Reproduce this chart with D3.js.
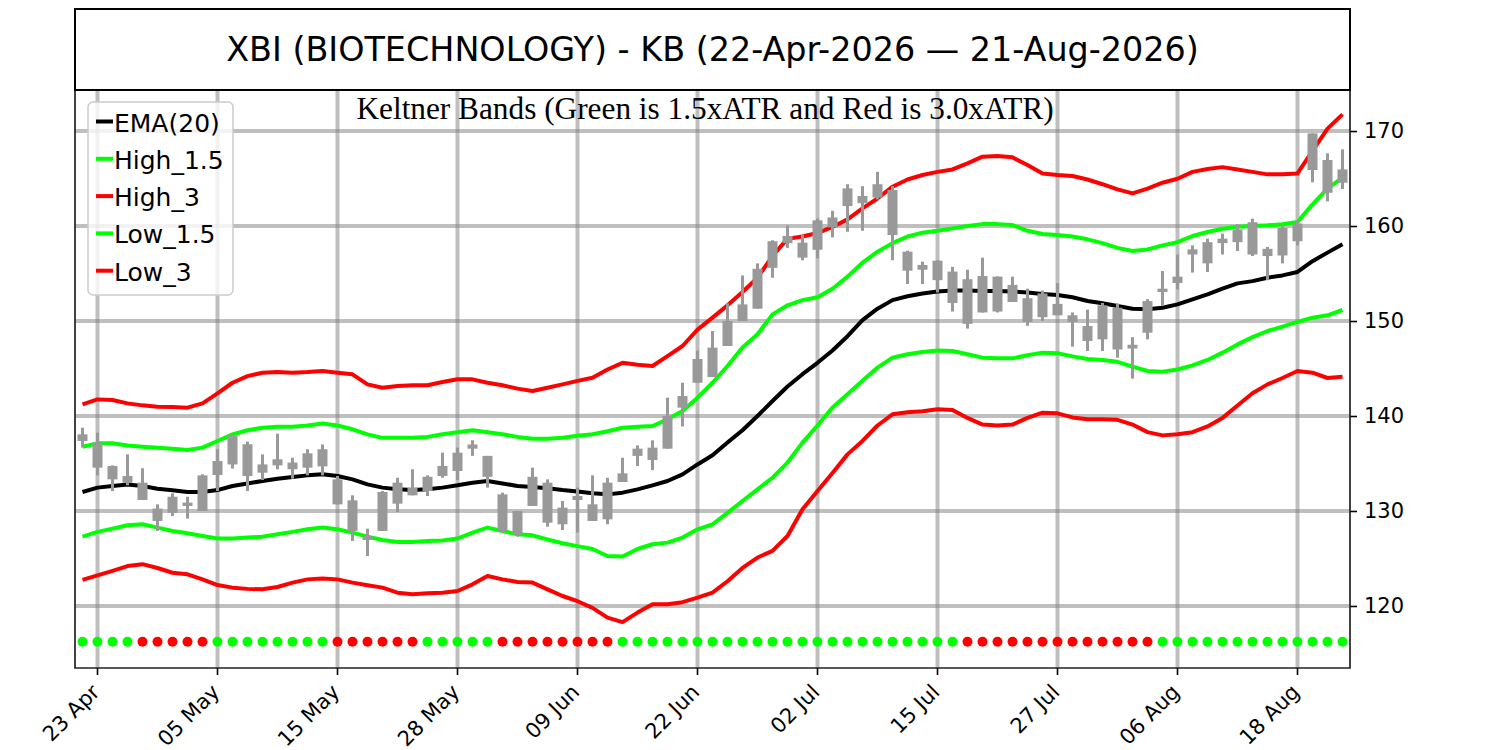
<!DOCTYPE html>
<html>
<head>
<meta charset="utf-8">
<script src="https://cdn.jsdelivr.net/npm/d3@7"></script>
<style>
  body { margin: 0; background: #fff; }
</style>
</head>
<body>
<div id="chart"></div>
<script>
// --- Data ---

// Trading-day calendar (weekdays minus US market holidays in the window)
const startDate = "2026-04-22";
const endDate = "2026-08-21";
const holidays = ["2026-05-25", "2026-06-19", "2026-07-03"];

// Candles (all drawn in the same grey)
const open = [138.07, 137.2, 134.74, 133.68, 132.98, 130.25, 131.5, 130.88, 130.0, 133.79,
  134.9, 137.02, 134.9, 135.44, 134.4, 134.56, 134.7, 133.33, 131.12, 127.37,
  127.9, 130.77, 132.46, 132.1, 133.68, 134.21, 136.56, 135.8, 131.75, 130.0,
  130.53, 132.98, 130.35, 131.58, 130.7, 129.12, 133.05, 135.8, 135.37, 136.56,
  140.88, 143.5, 144.1, 147.37, 150.0, 151.3, 155.6, 158.2, 158.25, 157.5,
  159.86, 162.1, 162.4, 163.0, 163.8, 157.3, 155.9, 156.35, 155.2, 154.4,
  154.74, 154.67, 153.8, 152.4, 152.9, 151.8, 150.6, 149.47, 151.65, 151.4,
  147.5, 148.77, 153.05, 154.0, 157.0, 156.07, 158.2, 158.3, 157.0, 157.6,
  156.9, 158.4, 165.9, 166.95, 165.96];
const close = [137.37, 134.56, 133.33, 132.98, 131.16, 128.95, 129.8, 130.53, 133.75, 135.26,
  137.96, 133.68, 134.03, 134.8, 135.1, 136.07, 136.5, 130.7, 127.9, 126.95,
  132.0, 132.98, 131.65, 133.6, 134.74, 136.14, 137.0, 133.6, 127.9, 127.54,
  133.6, 128.77, 128.6, 131.16, 128.95, 132.98, 133.96, 136.56, 136.67, 140.0,
  142.1, 146.0, 147.2, 150.0, 151.75, 155.5, 158.4, 158.95, 156.67, 160.6,
  160.9, 163.96, 163.16, 164.4, 159.05, 155.3, 155.4, 154.3, 151.9, 149.7,
  150.9, 151.0, 152.0, 149.9, 150.4, 150.6, 149.9, 147.9, 148.07, 147.0,
  147.1, 152.1, 153.4, 154.67, 157.54, 158.3, 158.67, 159.65, 160.4, 156.84,
  159.8, 160.28, 169.75, 163.5, 164.56];
const high = [138.77, 138.25, 134.8, 135.96, 134.5, 130.7, 131.86, 131.5, 133.86, 136.5,
  138.07, 137.3, 135.96, 138.14, 135.61, 136.5, 137.0, 133.68, 131.65, 128.14,
  132.1, 133.5, 134.39, 133.75, 136.14, 136.67, 137.44, 135.8, 131.93, 130.0,
  134.56, 133.33, 131.05, 132.46, 133.75, 133.5, 135.6, 136.9, 137.44, 141.93,
  143.5, 146.9, 148.95, 151.86, 154.8, 156.07, 158.5, 160.07, 159.1, 160.8,
  161.6, 164.4, 164.2, 165.7, 164.2, 157.4, 156.25, 156.4, 155.7, 155.4,
  156.67, 154.7, 154.67, 153.4, 153.2, 154.0, 150.9, 151.2, 151.9, 151.86,
  148.3, 152.3, 155.26, 157.0, 157.96, 158.67, 159.2, 160.2, 160.77, 157.8,
  160.07, 160.6, 169.75, 167.65, 168.07];
const low = [136.67, 133.75, 132.1, 132.7, 131.16, 127.9, 129.47, 129.2, 130.0, 132.1,
  134.46, 132.1, 133.26, 134.39, 133.4, 133.75, 133.75, 130.7, 126.84, 125.26,
  127.9, 129.9, 131.65, 131.58, 133.5, 133.26, 135.8, 132.46, 127.65, 127.3,
  130.53, 128.35, 128.0, 127.72, 128.95, 128.6, 133.05, 134.74, 134.3, 136.56,
  138.9, 143.5, 144.1, 147.37, 150.0, 151.3, 154.56, 157.7, 156.4, 156.6,
  158.8, 159.4, 159.5, 162.8, 156.4, 153.9, 153.9, 153.0, 151.0, 149.2,
  150.9, 150.9, 152.0, 149.5, 150.0, 150.9, 147.3, 146.84, 146.84, 146.14,
  143.93, 148.07, 151.58, 153.33, 155.1, 155.16, 157.0, 157.37, 156.84, 154.3,
  156.07, 157.96, 164.6, 162.6, 163.9];

// Keltner lines
const ema20 = [132.0, 132.46, 132.63, 132.8, 132.63, 132.35, 132.18, 132.0, 132.0, 132.2,
  132.63, 132.9, 133.16, 133.4, 133.58, 133.75, 133.86, 133.68, 133.33, 132.8,
  132.46, 132.28, 132.2, 132.28, 132.46, 132.7, 132.98, 133.16, 132.9, 132.63,
  132.53, 132.39, 132.2, 132.05, 131.86, 131.75, 131.93, 132.28, 132.7, 133.16,
  133.86, 134.9, 135.86, 137.2, 138.5, 140.0, 141.58, 143.1, 144.4, 145.6,
  146.9, 148.4, 150.1, 151.3, 152.2, 152.6, 152.9, 153.1, 153.2, 153.2,
  153.16, 153.16, 153.1, 153.0, 152.84, 152.74, 152.5, 152.1, 151.86, 151.58,
  151.3, 151.23, 151.4, 151.75, 152.28, 152.8, 153.4, 153.96, 154.2, 154.56,
  154.8, 155.16, 156.3, 157.2, 158.07];
const high15 = [136.77, 137.12, 137.12, 136.9, 136.77, 136.67, 136.56, 136.42, 136.67, 137.37,
  138.07, 138.5, 138.77, 138.88, 138.88, 139.0, 139.2, 139.0, 138.6, 138.07,
  137.7, 137.7, 137.7, 137.8, 138.07, 138.3, 138.5, 138.3, 138.07, 137.8,
  137.6, 137.6, 137.7, 137.93, 138.07, 138.4, 138.77, 138.88, 138.95, 139.65,
  140.53, 141.93, 143.5, 145.26, 147.2, 148.6, 150.7, 151.65, 152.2, 152.5,
  153.4, 154.67, 156.14, 157.3, 158.2, 158.9, 159.3, 159.5, 159.75, 160.0,
  160.2, 160.2, 160.1, 159.5, 159.16, 159.05, 158.9, 158.6, 158.2, 157.7,
  157.37, 157.54, 157.96, 158.3, 158.95, 159.37, 159.72, 159.93, 160.0, 160.07,
  160.18, 160.42, 162.28, 163.93, 165.1];
const high3 = [141.23, 141.75, 141.68, 141.33, 141.12, 140.98, 140.95, 140.88, 141.33, 142.38,
  143.5, 144.2, 144.56, 144.63, 144.56, 144.63, 144.74, 144.56, 144.39, 143.33,
  142.98, 143.16, 143.23, 143.23, 143.58, 143.86, 143.86, 143.5, 143.23, 142.88,
  142.63, 142.98, 143.33, 143.7, 144.03, 144.9, 145.6, 145.4, 145.26, 146.3,
  147.37, 149.1, 150.35, 151.65, 153.05, 154.56, 156.84, 158.67, 158.9, 159.26,
  159.9, 160.7, 161.86, 162.9, 164.14, 164.9, 165.37, 165.7, 165.96, 166.6,
  167.3, 167.37, 167.23, 166.42, 165.54, 165.37, 165.27, 164.9, 164.4, 163.86,
  163.44, 163.93, 164.56, 164.98, 165.7, 166.0, 166.2, 165.96, 165.7, 165.44,
  165.44, 165.54, 167.9, 170.25, 171.75];
const low15 = [127.3, 127.8, 128.14, 128.5, 128.6, 128.25, 127.9, 127.65, 127.37, 127.1,
  127.1, 127.2, 127.3, 127.54, 127.8, 128.07, 128.25, 128.07, 127.72, 127.3,
  126.95, 126.74, 126.74, 126.84, 126.9, 127.1, 127.72, 128.25, 127.9, 127.54,
  127.44, 127.0, 126.6, 126.3, 126.0, 125.26, 125.2, 126.0, 126.5, 126.67,
  127.2, 128.07, 128.6, 129.8, 131.05, 132.28, 133.5, 135.1, 137.2, 139.0,
  140.9, 142.3, 143.7, 145.1, 146.14, 146.5, 146.74, 146.9, 146.84, 146.5,
  146.14, 146.07, 146.07, 146.4, 146.67, 146.6, 146.28, 146.0, 145.9, 145.7,
  145.2, 144.74, 144.67, 144.9, 145.33, 145.9, 146.67, 147.54, 148.3, 148.95,
  149.4, 149.9, 150.35, 150.6, 151.16];
const low3 = [122.74, 123.23, 123.7, 124.2, 124.4, 124.0, 123.5, 123.33, 122.8, 122.2,
  121.93, 121.8, 121.75, 122.0, 122.46, 122.8, 122.88, 122.8, 122.46, 122.18,
  121.93, 121.4, 121.23, 121.33, 121.4, 121.58, 122.28, 123.16, 122.8, 122.53,
  122.46, 121.75, 121.05, 120.5, 119.8, 118.77, 118.3, 119.3, 120.18, 120.18,
  120.4, 120.88, 121.4, 122.6, 124.0, 125.1, 125.8, 127.37, 130.18, 132.1,
  134.0, 135.96, 137.37, 139.0, 140.18, 140.4, 140.5, 140.7, 140.63, 139.8,
  139.1, 139.0, 139.1, 139.8, 140.35, 140.28, 139.85, 139.65, 139.65, 139.6,
  139.1, 138.3, 137.96, 138.07, 138.3, 138.9, 139.8, 141.1, 142.4, 143.33,
  144.0, 144.74, 144.56, 144.0, 144.14];

// Signal dots along the bottom: 1 = green, 0 = red
const signal = [1, 1, 1, 1, 0, 0, 0, 0, 0, 1, 1, 1, 1, 1, 1, 1, 1, 0, 0, 0,
  0, 0, 0, 1, 1, 1, 1, 1, 0, 0, 0, 0, 0, 0, 0, 0, 1, 1, 1, 1,
  1, 1, 1, 1, 1, 1, 1, 1, 1, 1, 1, 1, 1, 1, 1, 1, 1, 1, 1, 0,
  0, 0, 0, 0, 0, 0, 0, 0, 0, 0, 0, 0, 1, 1, 1, 1, 1, 1, 1, 1,
  1, 1, 1, 1, 1];
const signalLevel = 116.24;

const yTicks = [120, 130, 140, 150, 160, 170];
const seriesNames = ["EMA(20)", "High_1.5", "High_3", "Low_1.5", "Low_3"];
const seriesColors = ["black", "#00ff00", "#ff0000", "#00ff00", "#ff0000"];

// --- Layout ---
const w = 1500;
const h = 750;
const plotL = 75, plotR = 1350, plotT = 90, plotB = 668;
const font = "DejaVu Sans, sans-serif";

// Build the trading-day list
const parseDay = d3.timeParse("%Y-%m-%d");
const fmtDay = d3.timeFormat("%Y-%m-%d");
const dates = d3.timeDay.range(parseDay(startDate), d3.timeDay.offset(parseDay(endDate), 1))
    .filter(d => d.getDay() % 6 !== 0 && holidays.indexOf(fmtDay(d)) < 0);

const xScale = d3.scaleBand()
    .domain(d3.range(dates.length))
    .range([plotL, plotR])
    .padding(0);
const xc = i => xScale(i) + xScale.bandwidth() / 2;

const yScale = d3.scaleLinear()
    .domain([113.47, 174.32])
    .range([plotB, plotT]);

// x ticks every 8 sessions, starting from the second one
const xTicks = d3.range(1, dates.length, 8);

const svg = d3.select("#chart")
    .append("svg")
    .attr("width", w)
    .attr("height", h);

// Grid
const grid = svg.append("g")
    .attr("stroke", "grey")
    .attr("stroke-opacity", 0.5)
    .attr("stroke-width", 4);

grid.selectAll(".hg")
    .data(yTicks)
    .enter()
    .append("line")
    .attr("x1", plotL)
    .attr("x2", plotR)
    .attr("y1", d => yScale(d))
    .attr("y2", d => yScale(d));

grid.selectAll(".vg")
    .data(xTicks)
    .enter()
    .append("line")
    .attr("x1", d => xc(d))
    .attr("x2", d => xc(d))
    .attr("y1", plotT)
    .attr("y2", plotB);

// Keltner lines
const seriesData = [ema20, high15, high3, low15, low3];
const line = d3.line()
    .x((d, i) => xc(i))
    .y(d => yScale(d));

svg.append("g")
    .selectAll("path")
    .data(seriesData)
    .enter()
    .append("path")
    .attr("d", d => line(d))
    .attr("fill", "none")
    .attr("stroke", (d, i) => seriesColors[i])
    .attr("stroke-width", 4)
    .attr("stroke-linejoin", "round");

// Candles
const candles = svg.append("g").attr("fill", "#999").attr("stroke", "#999");

candles.selectAll("line")
    .data(d3.range(dates.length))
    .enter()
    .append("line")
    .attr("x1", i => xc(i))
    .attr("x2", i => xc(i))
    .attr("y1", i => yScale(high[i]))
    .attr("y2", i => yScale(low[i]))
    .attr("stroke-width", 3);

candles.selectAll("rect")
    .data(d3.range(dates.length))
    .enter()
    .append("rect")
    .attr("x", i => xc(i) - 5)
    .attr("width", 10)
    .attr("y", i => yScale(Math.max(open[i], close[i])))
    .attr("height", i => Math.max(2, Math.abs(yScale(open[i]) - yScale(close[i]))))
    .attr("stroke", "none");

// Signal dots
svg.append("g")
    .selectAll("circle")
    .data(signal)
    .enter()
    .append("circle")
    .attr("cx", (d, i) => xc(i))
    .attr("cy", yScale(signalLevel))
    .attr("r", 5)
    .attr("fill", d => d ? "#00ff00" : "#ff0000");

// Axes
const yAxis = svg.append("g")
    .attr("transform", `translate(${plotR},0)`)
    .call(d3.axisRight(yScale).tickValues(yTicks).tickSize(7).tickPadding(7));
yAxis.select(".domain").remove();
yAxis.selectAll("line").attr("stroke", "#000").attr("stroke-width", 1.6);
yAxis.selectAll("text")
    .attr("font-family", font)
    .attr("font-size", "21px")
    .attr("fill", "#000");

const fmtTick = d3.timeFormat("%d %b");
const xAxis = svg.append("g")
    .attr("transform", `translate(0,${plotB})`)
    .call(d3.axisBottom(xScale).tickValues(xTicks).tickSize(7).tickFormat(i => fmtTick(dates[i])));
xAxis.select(".domain").remove();
xAxis.selectAll("line").attr("stroke", "#000").attr("stroke-width", 1.6);
xAxis.selectAll("text")
    .attr("font-family", font)
    .attr("font-size", "21px")
    .attr("fill", "#000")
    .attr("text-anchor", "end")
    .attr("dy", "0.35em")
    .attr("transform", "translate(-9,13) rotate(-45)");

// Frame: left, right, bottom spines
svg.append("path")
    .attr("d", `M${plotL},${plotT}V${plotB}H${plotR}V${plotT}`)
    .attr("fill", "none")
    .attr("stroke", "#222")
    .attr("stroke-width", 1.7);

// Title box
svg.append("rect")
    .attr("x", plotL)
    .attr("y", 9)
    .attr("width", plotR - plotL)
    .attr("height", plotT - 9)
    .attr("fill", "white")
    .attr("stroke", "black")
    .attr("stroke-width", 2);

svg.append("text")
    .attr("x", (plotL + plotR) / 2)
    .attr("y", 61)
    .attr("text-anchor", "middle")
    .attr("font-family", font)
    .attr("font-size", "33.4px")
    .attr("fill", "black")
    .text("XBI (BIOTECHNOLOGY) - KB (22-Apr-2026 \u2014 21-Aug-2026)");

// Subtitle inside the plot
svg.append("text")
    .attr("x", 705)
    .attr("y", 119)
    .attr("text-anchor", "middle")
    .attr("font-family", "Liberation Serif, Times New Roman, serif")
    .attr("font-size", "31.3px")
    .attr("fill", "black")
    .text("Keltner Bands (Green is 1.5xATR and Red is 3.0xATR)");

// Legend
const legend = svg.append("g");
legend.append("rect")
    .attr("x", 88)
    .attr("y", 102)
    .attr("width", 145)
    .attr("height", 193)
    .attr("rx", 5)
    .attr("fill", "white")
    .attr("fill-opacity", 0.8)
    .attr("stroke", "#ccc")
    .attr("stroke-width", 1.5);

const items = legend.selectAll(".item")
    .data(seriesNames)
    .enter()
    .append("g")
    .attr("transform", (d, i) => `translate(0,${131.5 + i * 37.3})`);

items.append("line")
    .attr("x1", 96)
    .attr("x2", 113)
    .attr("y1", -10)
    .attr("y2", -10)
    .attr("stroke", (d, i) => seriesColors[i])
    .attr("stroke-width", 4);

items.append("text")
    .attr("x", 114)
    .attr("y", 0)
    .attr("font-family", font)
    .attr("font-size", "25px")
    .attr("fill", "black")
    .text(d => d);
</script>
</body>
</html>
